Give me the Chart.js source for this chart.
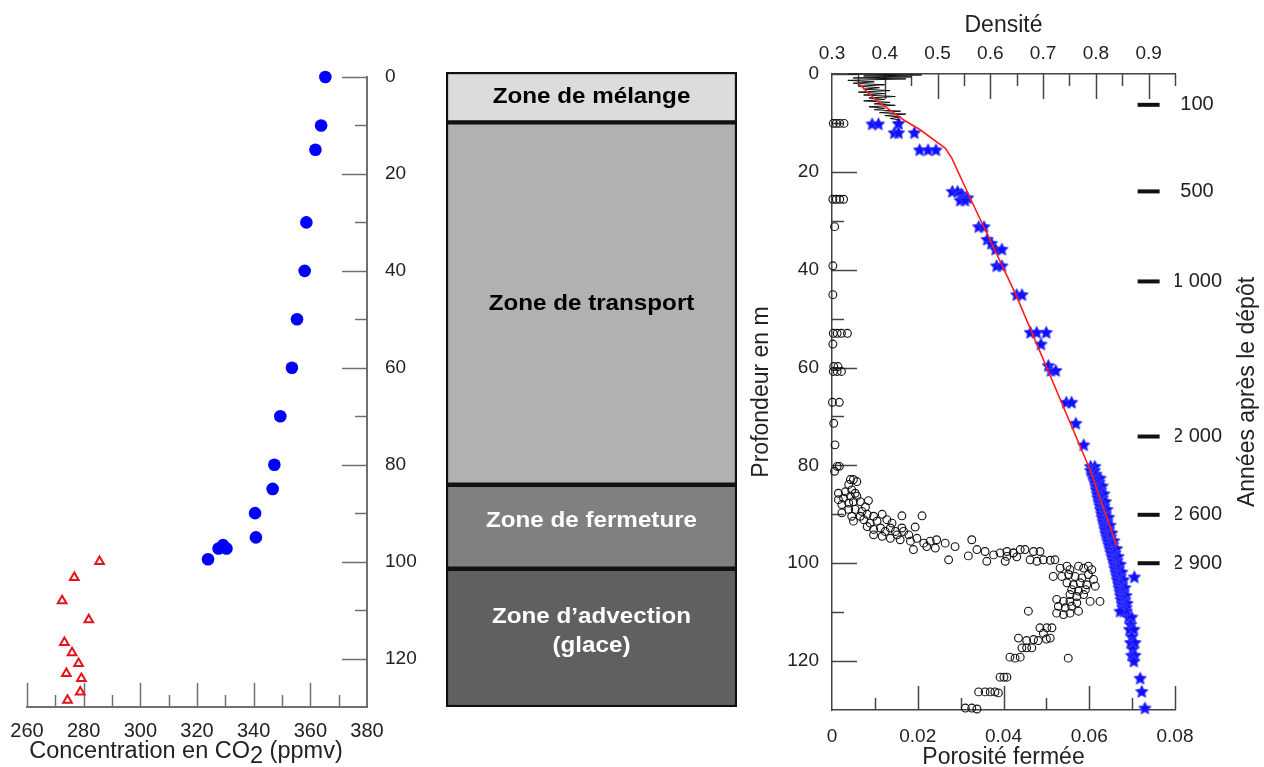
<!DOCTYPE html>
<html lang="fr">
<head>
<meta charset="utf-8">
<title>Profils du névé</title>
<script src="https://cdn.jsdelivr.net/npm/chart.js@4.4.0/dist/chart.umd.min.js"></script>
<style>
  body { margin: 0; background: #fff; overflow: hidden; }
  canvas { position: absolute; top: 0; }
  #co2Chart { left: 0; }
  #zoneChart { left: 440px; }
  #densChart { left: 750px; }
</style>
</head>
<body>
<canvas id="co2Chart" width="440" height="767"></canvas>
<canvas id="zoneChart" width="310" height="767"></canvas>
<canvas id="densChart" width="514" height="767"></canvas>
<script>
/* ---- left panel: CO2 in firn air and in ice ---- */
const firnDepth = [0, 10, 15, 30, 40, 50, 60, 70, 80, 85, 90, 95, 97.3, 96.6, 97.3, 99.5];
const firnCO2 = [365.3, 363.8, 361.8, 358.6, 358.0, 355.3, 353.5, 349.4, 347.3, 346.7, 340.5, 340.8, 327.6, 329.2, 330.4, 323.9];
const iceDepth = [100, 103.3, 108.1, 112, 116.7, 118.8, 121, 123.1, 124.1, 126.9, 128.6];
const iceCO2 = [285.6, 276.7, 272.4, 281.8, 273.2, 275.9, 278.2, 273.9, 279.2, 278.8, 274.3];
const co2MajorTicks = [260, 280, 300, 320, 340, 360];
const co2MinorTicks = [270, 290, 310, 330, 350, 370];
const depthMajorTicks = [0, 20, 40, 60, 80, 100, 120];
const depthMinorTicks = [10, 30, 50, 70, 90, 110];

/* ---- middle panel: zones ---- */
const zoneNames = [['Zone de mélange'], ['Zone de transport'], ['Zone de fermeture'], ['Zone d\u2019advection', '(glace)']];
const zoneTop = [0, 10.3, 84.5, 101.7];
const zoneBottom = [10.3, 84.5, 101.7, 130];

/* ---- right panel: density, closed porosity, ages ---- */
const modelDepth = [1.9, 3.8, 5.7, 7.7, 9.4, 11.4, 15.2, 17.2, 25.4, 45, 80.9, 96.6];
const modelDens = [0.350, 0.368, 0.388, 0.414, 0.436, 0.467, 0.515, 0.527, 0.562, 0.648, 0.789, 0.840];

const measDepth = [0, 0.2, 0.4, 0.6, 0.8, 1.0, 1.3, 1.6, 1.9, 2.2, 2.5, 2.8, 3.1, 3.4, 3.7, 4.0, 4.3, 4.6, 4.9,
  5.2, 5.5, 5.8, 6.1, 6.4, 6.7, 7.0, 7.3, 7.6, 7.9, 8.2, 8.5, 8.8, 9.1, 9.4];
const measDens = [0.33, 0.47, 0.36, 0.45, 0.34, 0.44, 0.33, 0.38, 0.34, 0.40, 0.35, 0.39, 0.36, 0.41, 0.35, 0.40, 0.36, 0.42, 0.37,
  0.40, 0.36, 0.41, 0.38, 0.42, 0.37, 0.40, 0.38, 0.43, 0.39, 0.44, 0.40, 0.43, 0.41, 0.43];

const starDepth = [
  10.2, 10.2, 10.1, 12.0, 12.0, 12.0, 15.5, 15.5, 15.5, 24.0, 24.0, 24.5, 25.3, 25.3, 25.8, 25.8,
  31.2, 31.2, 33.8, 34.6, 35.8, 35.8, 39.2, 39.2, 45.1, 45.1, 52.8, 52.8, 52.8, 55.2,
  59.6, 60.6, 60.6, 67.1, 67.1, 71.4, 75.8, 80.2, 80.2,
  81.0, 81.0, 81.8, 81.8, 82.6, 82.6, 82.6, 83.4, 83.4, 84.2, 84.2, 84.2, 85.0, 85.0,
  85.8, 85.8, 85.8, 86.6, 86.6, 87.4, 87.4, 87.4, 88.2, 88.2, 89.0, 89.0, 89.0, 89.8, 89.8,
  90.6, 90.6, 90.6, 91.4, 91.4, 92.2, 92.2, 92.2, 93.0, 93.0, 93.8, 93.8, 93.8, 94.6, 94.6,
  95.4, 95.4, 95.4, 96.2, 96.2, 97.0, 97.0, 97.0, 97.8, 97.8, 98.6, 98.6, 98.6, 99.4, 99.4,
  100.2, 100.2, 100.2, 101.0, 101.0, 101.8, 101.8, 101.8, 102.6, 102.6, 103.4, 103.4, 103.4,
  104.2, 104.2, 105.0, 105.0, 105.0, 105.8, 105.8, 106.6, 106.6, 106.6, 107.4, 107.4,
  108.2, 108.2, 108.2, 109.0, 109.0, 109.8, 109.8, 102.8, 109.8,
  111.0, 111.0, 112.5, 113.5, 113.5, 115.0, 116.2, 116.2, 117.5, 118.8, 118.8, 120.0,
  123.5, 126.2, 129.6];
const starDens = [
  0.376, 0.388, 0.426, 0.418, 0.426, 0.456, 0.466, 0.482, 0.497, 0.528, 0.538, 0.545, 0.550, 0.557, 0.543, 0.552,
  0.578, 0.588, 0.594, 0.602, 0.610, 0.622, 0.612, 0.622, 0.650, 0.660, 0.676, 0.688, 0.706, 0.696,
  0.710, 0.715, 0.724, 0.744, 0.754, 0.762, 0.777, 0.790, 0.798,
  0.790, 0.797, 0.793, 0.800, 0.796, 0.803, 0.808, 0.798, 0.806, 0.800, 0.807, 0.812, 0.801, 0.809,
  0.803, 0.810, 0.815, 0.804, 0.812, 0.806, 0.813, 0.818, 0.808, 0.815, 0.809, 0.816, 0.821, 0.811, 0.818,
  0.812, 0.819, 0.824, 0.814, 0.821, 0.816, 0.822, 0.827, 0.817, 0.824, 0.819, 0.826, 0.830, 0.821, 0.828,
  0.823, 0.830, 0.834, 0.825, 0.832, 0.827, 0.834, 0.839, 0.829, 0.836, 0.831, 0.838, 0.842, 0.833, 0.840,
  0.835, 0.841, 0.846, 0.836, 0.843, 0.838, 0.845, 0.849, 0.840, 0.846, 0.841, 0.848, 0.852,
  0.843, 0.849, 0.844, 0.851, 0.855, 0.846, 0.852, 0.847, 0.853, 0.857, 0.848, 0.855,
  0.850, 0.856, 0.859, 0.851, 0.857, 0.853, 0.858, 0.873, 0.846,
  0.862, 0.868, 0.866, 0.864, 0.872, 0.868, 0.866, 0.874, 0.870, 0.868, 0.874, 0.872,
  0.884, 0.887, 0.893];

const porDepth = [
  10.1, 10.1, 10.1, 10.1, 25.6, 25.6, 25.6, 25.6, 31.2, 39.2, 45.1, 53.0, 53.0, 53.0, 53.0, 55.2,
  59.8, 59.8, 60.8, 60.8, 60.8, 67.1, 67.1, 71.4, 75.8, 80.2, 80.2, 81.2,
  82.9, 82.9, 83.3, 83.9, 85.7, 85.4, 85.0, 85.7, 86.7, 86.3, 86.3, 87.0, 88.0, 87.7, 87.4, 87.4, 87.2,
  89.7, 89.0, 89.0, 89.4, 88.5, 90.4, 90.4, 90.0, 90.4, 90.0, 90.3, 90.3, 91.4, 91.1, 91.8, 91.4, 91.1, 91.8,
  92.5, 93.1, 92.8, 93.5, 92.8, 93.5, 92.8, 92.6, 94.2, 94.5, 94.9, 94.2, 93.5, 94.2, 95.2, 95.5, 94.9, 95.9, 95.5, 95.2,
  97.2, 96.6, 96.9, 95.9, 96.6, 95.2, 98.5, 99.3, 97.2, 97.6, 98.3, 97.9, 98.6, 97.9, 97.2, 99.6, 99.6,
  97.6, 97.9, 97.2, 98.7, 97.6, 97.6, 99.3, 99.6, 99.3, 99.4, 99.3, 101.0, 100.6, 101.3, 100.6, 101.0, 100.6, 101.3,
  102.7, 102.7, 102.3, 102.7, 103.0, 102.3, 103.3, 104.0, 104.4, 104.0, 104.4, 104.7, 105.4, 105.7, 105.4,
  106.4, 106.8, 106.4, 107.8, 107.8, 107.4, 107.8, 107.8, 108.1, 108.8, 109.1, 108.8, 109.8, 110.2, 110.5, 110.2, 109.8,
  113.2, 113.2, 113.2, 114.3, 115.3, 115.3, 115.8, 115.6, 115.8, 115.5, 117.3, 117.3, 117.3, 119.2, 119.4, 119.2, 119.4,
  123.3, 123.3, 123.3, 126.3, 126.3, 126.3, 126.3, 126.5, 129.6, 129.6, 129.8];
const porValue = [
  0.0003, 0.0010, 0.0018, 0.0028, 0.0002, 0.0010, 0.0018, 0.0027, 0.0006, 0.0002, 0.0002, 0.0003, 0.0012, 0.0022, 0.0036, 0.0002,
  0.0004, 0.0014, 0.0003, 0.0012, 0.0022, 0.0001, 0.0017, 0.0004, 0.0007, 0.0012, 0.0017, 0.0006,
  0.0043, 0.0050, 0.0058, 0.0039, 0.0015, 0.0031, 0.0046, 0.0054, 0.0027, 0.0043, 0.0058, 0.0015, 0.0023, 0.0039, 0.0050, 0.0066, 0.0085,
  0.0023, 0.0039, 0.0054, 0.0070, 0.0078, 0.0046, 0.0066, 0.0082, 0.0097, 0.0117, 0.0163, 0.0210, 0.0050, 0.0074, 0.0089, 0.0105, 0.0128, 0.0140,
  0.0082, 0.0097, 0.0113, 0.0124, 0.0136, 0.0148, 0.0163, 0.0194, 0.0097, 0.0117, 0.0136, 0.0152, 0.0167, 0.0179, 0.0159, 0.0183, 0.0198, 0.0214, 0.0229, 0.0244,
  0.0190, 0.0221, 0.0241, 0.0264, 0.0287, 0.0326, 0.0318, 0.0272, 0.0338, 0.0357, 0.0377, 0.0392, 0.0408, 0.0423, 0.0439, 0.0361, 0.0404,
  0.0408, 0.0423, 0.0450, 0.0431, 0.0470, 0.0485, 0.0462, 0.0478, 0.0493, 0.0509, 0.0520, 0.0532, 0.0548, 0.0555, 0.0575, 0.0587, 0.0598, 0.0606,
  0.0516, 0.0536, 0.0552, 0.0567, 0.0583, 0.0598, 0.0610, 0.0548, 0.0563, 0.0579, 0.0594, 0.0614, 0.0559, 0.0575, 0.0591,
  0.0555, 0.0571, 0.0587, 0.0602, 0.0625, 0.0524, 0.0540, 0.0555, 0.0571, 0.0528, 0.0544, 0.0559, 0.0575, 0.0524, 0.0540, 0.0555, 0.0458,
  0.0485, 0.0501, 0.0513, 0.0493, 0.0509, 0.0435, 0.0454, 0.0470, 0.0481, 0.0500, 0.0443, 0.0454, 0.0466, 0.0415, 0.0427, 0.0439, 0.0551,
  0.0392, 0.0401, 0.0408, 0.0342, 0.0357, 0.0369, 0.0380, 0.0388, 0.0311, 0.0326, 0.0338];

const yearDepth = [6.3, 24.0, 42.4, 74.1, 90.1, 100.0];
const yearLabels = ['100', '500', '1 000', '2 000', '2 600', '2 900'];
const densMajorTicks = [0.4, 0.5, 0.6, 0.7, 0.8, 0.9];
const densMinorTicks = [0.35, 0.45, 0.55, 0.65, 0.75, 0.85, 0.95];
const porMajorTicks = [0.02, 0.04, 0.06, 0.08];
const porMinorTicks = [0.01, 0.03, 0.05, 0.07];

/* styles */
const zoneFill = ['#dcdcdc', '#b1b1b1', '#808080', '#606060'];
const zoneText = ['#000', '#000', '#fff', '#fff'];
const FONT = '"Liberation Sans", Arial, sans-serif';
Chart.defaults.font.family = FONT;
Chart.defaults.color = '#222';

const toPoints = (xs, ys) => xs.map((x, i) => ({ x: x, y: ys[i] }));

/* tick marks pointing into the plot */
const innerTicks = {
    id: 'innerTicks',
    beforeDatasetsDraw(chart, args, opts) {
        const ctx = chart.ctx;
        const area = chart.chartArea;
        ctx.save();
        ctx.strokeStyle = opts.color;
        ctx.lineWidth = 1.5;
        opts.sets.forEach(set => {
            const scale = chart.scales[set.scale];
            set.values.forEach(v => {
                const p = Math.round(scale.getPixelForValue(v)) + 0.5;
                ctx.beginPath();
                if (set.edge === 'bottom') { ctx.moveTo(p, area.bottom); ctx.lineTo(p, area.bottom - set.len); }
                if (set.edge === 'top') { ctx.moveTo(p, area.top); ctx.lineTo(p, area.top + set.len); }
                if (set.edge === 'left') { ctx.moveTo(area.left, p); ctx.lineTo(area.left + set.len, p); }
                if (set.edge === 'right') { ctx.moveTo(area.right, p); ctx.lineTo(area.right - set.len, p); }
                ctx.stroke();
            });
        });
        ctx.restore();
    }
};

/* left chart */
const co2Title = {
    id: 'co2Title',
    afterDraw(chart) {
        const ctx = chart.ctx;
        const area = chart.chartArea;
        const parts = ['Concentration en CO', '2', ' (ppmv)'];
        ctx.save();
        ctx.font = '23.5px ' + FONT;
        ctx.fillStyle = '#222';
        ctx.textBaseline = 'alphabetic';
        const w = parts.map(t => ctx.measureText(t).width);
        let x = (area.left + area.right) / 2 - 11 - (w[0] + w[1] + w[2]) / 2;
        const base = 758;
        ctx.fillText(parts[0], x, base); x += w[0];
        ctx.fillText(parts[1], x, base + 5); x += w[1];
        ctx.fillText(parts[2], x, base);
        ctx.restore();
    }
};

new Chart(document.getElementById('co2Chart'), {
    type: 'scatter',
    data: {
        datasets: [{
            label: 'Air du névé',
            data: toPoints(firnCO2, firnDepth),
            pointStyle: 'circle',
            pointRadius: 6.3,
            backgroundColor: '#0000ff',
            borderWidth: 0,
            clip: false
        }, {
            label: 'Glace',
            data: toPoints(iceCO2, iceDepth),
            pointStyle: 'triangle',
            pointRadius: 5,
            backgroundColor: 'rgba(0,0,0,0)',
            borderColor: '#e3141c',
            borderWidth: 2,
            clip: false
        }]
    },
    options: {
        responsive: false,
        animation: false,
        layout: { padding: { left: 27, top: 77 } },
        scales: {
            x: {
                type: 'linear', position: 'bottom', min: 260, max: 380,
                grid: { display: false },
                border: { color: '#707070', width: 2 },
                ticks: { stepSize: 20, autoSkip: false, maxRotation: 0, padding: 4, font: { size: 20 } },
                afterFit: s => { s.height = 60; }
            },
            y: {
                type: 'linear', position: 'right', min: 0, max: 130, reverse: true,
                grid: { display: false },
                border: { color: '#707070', width: 2 },
                ticks: { stepSize: 20, includeBounds: false, autoSkip: false, padding: 10, font: { size: 19 } },
                afterFit: s => { s.width = 73; }
            }
        },
        plugins: {
            legend: { display: false },
            tooltip: { enabled: false },
            innerTicks: {
                color: '#707070',
                sets: [
                    { scale: 'x', edge: 'bottom', values: co2MajorTicks, len: 24 },
                    { scale: 'x', edge: 'bottom', values: co2MinorTicks, len: 12 },
                    { scale: 'y', edge: 'right', values: depthMajorTicks, len: 25 },
                    { scale: 'y', edge: 'right', values: depthMinorTicks, len: 12 }
                ]
            }
        }
    },
    plugins: [innerTicks, co2Title]
});

/* middle chart: zones as floating bars */
const zoneLabels = {
    id: 'zoneLabels',
    afterDatasetsDraw(chart) {
        const ctx = chart.ctx;
        ctx.save();
        ctx.font = 'bold 22px ' + FONT;
        ctx.textAlign = 'center';
        ctx.textBaseline = 'middle';
        zoneNames.forEach((lines, i) => {
            const bar = chart.getDatasetMeta(i).data[0];
            const p = bar.getProps(['x', 'y', 'base'], true);
            const cy = (p.y + p.base) / 2 - (i > 1 ? 6 : 0);
            ctx.fillStyle = zoneText[i];
            lines.forEach((t, k) => {
                const y = cy + (k - (lines.length - 1) / 2) * 29;
                ctx.save();
                ctx.translate(p.x, y);
                ctx.scale(1.1, 1);
                ctx.fillText(t, 0, 0);
                ctx.restore();
            });
        });
        ctx.restore();
    }
};

new Chart(document.getElementById('zoneChart'), {
    type: 'bar',
    data: {
        labels: ['Névé'],
        datasets: zoneNames.map((n, i) => ({
            label: n.join(' '),
            data: [[zoneTop[i], zoneBottom[i]]],
            backgroundColor: zoneFill[i],
            borderColor: '#111',
            borderWidth: 2.5,
            borderSkipped: false,
            grouped: false,
            barPercentage: 1,
            categoryPercentage: 1
        }))
    },
    options: {
        responsive: false,
        animation: false,
        layout: { padding: { left: 6, right: 13, top: 72, bottom: 60 } },
        scales: {
            x: { display: false },
            y: { display: false, min: 0, max: 130, reverse: true }
        },
        plugins: { legend: { display: false }, tooltip: { enabled: false } }
    },
    plugins: [zoneLabels]
});

/* right chart */
function makeStar(r) {
    const c = document.createElement('canvas');
    const size = Math.ceil(r * 2 + 2);
    c.width = size;
    c.height = size;
    const g = c.getContext('2d');
    g.translate(size / 2, size / 2 + 0.5);
    g.beginPath();
    for (let i = 0; i < 10; i++) {
        const rr = i % 2 ? r * 0.5 : r;
        const a = -Math.PI / 2 + i * Math.PI / 5;
        g.lineTo(rr * Math.cos(a), rr * Math.sin(a));
    }
    g.closePath();
    g.fillStyle = '#1010ff';
    g.fill();
    g.strokeStyle = '#4040ff';
    g.lineWidth = 1;
    g.stroke();
    return c;
}
const starImg = makeStar(6.5);

const ageTitle = {
    id: 'ageTitle',
    afterDraw(chart) {
        const ctx = chart.ctx;
        const area = chart.chartArea;
        ctx.save();
        ctx.font = '23px ' + FONT;
        ctx.fillStyle = '#222';
        ctx.textAlign = 'center';
        ctx.textBaseline = 'middle';
        ctx.translate(chart.width - 16, (area.top + area.bottom) / 2);
        ctx.rotate(-Math.PI / 2);
        ctx.fillText('Années après le dépôt', 0, 0);
        ctx.restore();
    }
};

new Chart(document.getElementById('densChart'), {
    type: 'scatter',
    data: {
        datasets: [{
            label: 'Modèle',
            data: toPoints(modelDens, modelDepth),
            xAxisID: 'xd', yAxisID: 'y',
            showLine: true,
            borderColor: '#ff1e1e',
            borderWidth: 1.6,
            pointRadius: 0,
            clip: false
        }, {
            label: 'Mesures de densité',
            data: toPoints(measDens, measDepth),
            xAxisID: 'xd', yAxisID: 'y',
            showLine: true,
            borderColor: '#111',
            borderWidth: 1,
            pointRadius: 0,
            clip: false
        }, {
            label: 'Densité',
            data: toPoints(starDens, starDepth),
            xAxisID: 'xd', yAxisID: 'y',
            pointStyle: starImg,
            pointRadius: 5,
            clip: false
        }, {
            label: 'Porosité fermée',
            data: toPoints(porValue, porDepth),
            xAxisID: 'xp', yAxisID: 'y',
            pointStyle: 'circle',
            pointRadius: 3.9,
            backgroundColor: 'rgba(0,0,0,0)',
            borderColor: '#111',
            borderWidth: 1.1,
            clip: false
        }, {
            label: 'Années',
            data: yearDepth.map(z => ({ x: 0.9, y: z })),
            xAxisID: 'xd', yAxisID: 'y',
            pointStyle: 'line',
            pointRadius: 11,
            borderColor: '#111',
            borderWidth: 4
        }]
    },
    options: {
        responsive: false,
        animation: false,
        scales: {
            xp: {
                type: 'linear', position: 'bottom', min: 0, max: 0.08,
                grid: { display: false },
                border: { color: '#444', width: 1.5 },
                ticks: { stepSize: 0.02, autoSkip: false, maxRotation: 0, padding: 7, font: { size: 19 },
                    callback: v => String(+v.toFixed(2)) },
                title: { display: true, text: 'Porosité fermée', font: { size: 23, lineHeight: 0.85 }, padding: 0 },
                afterFit: s => { s.height = 57; }
            },
            xd: {
                type: 'linear', position: 'top', min: 0.3, max: 0.95,
                grid: { display: false },
                border: { color: '#444', width: 1.5 },
                ticks: { stepSize: 0.1, includeBounds: false, autoSkip: false, maxRotation: 0, padding: 1, font: { size: 19 },
                    callback: v => String(+v.toFixed(1)) },
                title: { display: true, text: 'Densité', font: { size: 23, lineHeight: 1 }, padding: { top: 14, bottom: 0 } },
                afterFit: s => { s.height = 74; }
            },
            y: {
                type: 'linear', position: 'left', min: 0, max: 130, reverse: true,
                grid: { display: false },
                border: { color: '#444', width: 1.5 },
                ticks: { stepSize: 20, includeBounds: false, autoSkip: false, padding: 5, font: { size: 19 } },
                title: { display: true, text: 'Profondeur en m', font: { size: 23, lineHeight: 1 }, padding: 0 },
                afterFit: s => { s.width = 82; }
            },
            y2: {
                type: 'linear', position: 'right', min: 0, max: 130, reverse: true,
                grid: { display: false },
                border: { display: false },
                afterBuildTicks: s => { s.ticks = yearDepth.map(v => ({ value: v })); },
                ticks: { autoSkip: false, crossAlign: 'center', padding: -11, font: { size: 20 },
                    callback: (v, i) => yearLabels[i] },
                afterFit: s => { s.width = 89; }
            }
        },
        plugins: {
            legend: { display: false },
            tooltip: { enabled: false },
            innerTicks: {
                color: '#444',
                sets: [
                    { scale: 'xp', edge: 'bottom', values: porMajorTicks, len: 24 },
                    { scale: 'xp', edge: 'bottom', values: porMinorTicks, len: 12 },
                    { scale: 'xd', edge: 'top', values: densMajorTicks, len: 25 },
                    { scale: 'xd', edge: 'top', values: densMinorTicks, len: 12 },
                    { scale: 'y', edge: 'left', values: depthMajorTicks, len: 25 },
                    { scale: 'y', edge: 'left', values: depthMinorTicks, len: 12 }
                ]
            }
        }
    },
    plugins: [innerTicks, ageTitle]
});
</script>
</body>
</html>
